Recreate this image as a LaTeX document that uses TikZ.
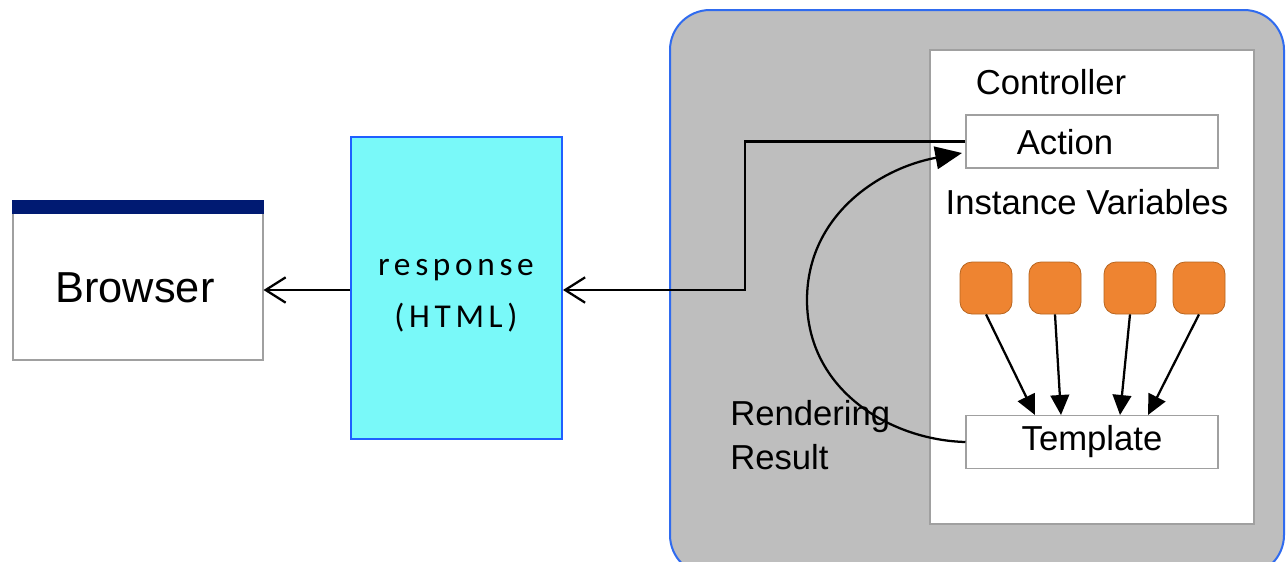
\documentclass[tikz,border=0pt]{standalone}
\usepackage{fontspec}
\setmainfont{Liberation Sans}
\newfontfamily\respfont{Carlito}[LetterSpace=14]
\usetikzlibrary{arrows.meta,calc}
\definecolor{navy}{HTML}{001A72}
\definecolor{cyanfill}{HTML}{79F9F9}
\definecolor{boxblue}{HTML}{1F5FFF}
\definecolor{panelgray}{HTML}{BEBEBE}
\definecolor{panelblue}{HTML}{2F6BEF}
\definecolor{orangefill}{HTML}{EE8431}
\definecolor{orangeline}{HTML}{B8651F}
\definecolor{boxgray}{HTML}{A0A0A0}
\begin{document}
\begin{tikzpicture}[x=0.75pt,y=-0.75pt,
  whitebox/.style={draw=boxgray,fill=white,line width=0.8pt,inner sep=0pt},
  lbl/.style={font=\fontsize{26}{31}\selectfont,inner sep=0pt},
  openarrow/.style={line width=1.7pt,-{Straight Barb[length=15pt,width=19pt,line width=1.7pt]}},
  filledarrow/.style={line width=1.7pt,-{Triangle[length=15pt,width=14pt]}},
  bigarrow/.style={line width=1.7pt,-{Triangle[length=20pt,width=17pt]}},
  ivar/.style={draw=orangeline,fill=orangefill,line width=0.6pt,minimum size=39pt,rounded corners=9pt,inner sep=0pt}]
\useasboundingbox (0,0) rectangle (1286,561);
\fill[white] (0,0) rectangle (1286,561);
% browser
\node[whitebox,minimum width=187.5pt,minimum height=119.25pt] (browser) at (138,280.5) {};
\fill[navy] (browser.north west) rectangle ($(browser.north east)+(0,14)$);
\node[font=\fontsize{32.5}{39}\selectfont,inner sep=0pt] (browsertxt) at (135,288) {Browser};
% response
\node[draw=boxblue,fill=cyanfill,line width=1.5pt,minimum width=158.25pt,minimum height=226.5pt,inner sep=0pt] (resp) at (456.5,288) {};
\node[font=\respfont\fontsize{25}{39}\selectfont,align=center,inner sep=0pt] (resptxt) at (456,296) {response\\(HTML)};
% panel
\draw[panelblue,fill=panelgray,line width=1.5pt,rounded corners=30pt] (670,10) rectangle (1284,575);
\node[whitebox,minimum width=243pt,minimum height=355.5pt] (ctrl) at (1092,287) {};
\node[lbl] (ctrltxt) at (1051,82) {Controller};
\node[whitebox,minimum width=189pt,minimum height=39.75pt] (action) at (1092,141.5) {};
\node[lbl] (actiontxt) at (1065,142) {Action};
\node[lbl] (ivtxt) at (1087,202) {Instance Variables};
\node[whitebox,minimum width=189pt,minimum height=39.75pt] (tmpl) at (1092,442) {};
\node[lbl] (tmpltxt) at (1092,442) {Template};
\node[lbl,align=left,anchor=west,font=\fontsize{26}{33}\selectfont] (rend) at (730,435) {Rendering\\Result};
% instance variables
\node[ivar] (v1) at (986,288) {};
\node[ivar] (v2) at (1055,288) {};
\node[ivar] (v3) at (1130,288) {};
\node[ivar] (v4) at (1199,288) {};
\coordinate (t1) at (1035,415);
\coordinate (t2) at (1061,415);
\coordinate (t3) at (1120,415);
\coordinate (t4) at (1148,415);
\draw[filledarrow] (v1.south) -- (t1);
\draw[filledarrow] (v2.south) -- (t2);
\draw[filledarrow] (v3.south) -- (t3);
\draw[filledarrow] (v4.south) -- (t4);
% connectors
\coordinate (bend) at (745,290);
\draw[openarrow] (action.west) -- (action.west -| bend) -- (bend) -- (bend -| resp.east);
\draw[openarrow] (resp.west |- bend) -- (browser.east |- bend);
\coordinate (acttip) at (962,153);
\coordinate (leftmost) at (807,300);
\draw[bigarrow] (tmpl.west) .. controls (890,440) and (807,390) .. (leftmost) .. controls (807,215) and (880,168) .. (acttip);
\end{tikzpicture}
\end{document}
